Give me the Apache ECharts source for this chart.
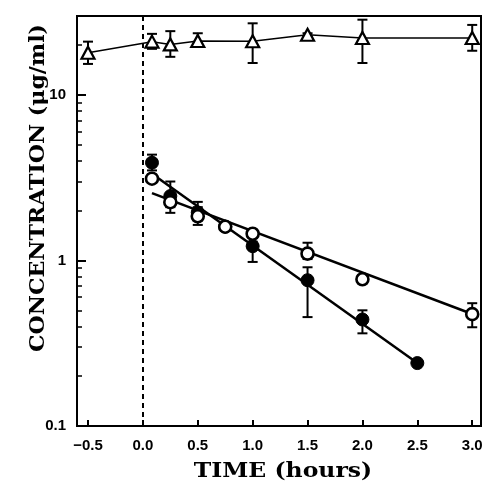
<!DOCTYPE html>
<html><head><meta charset="utf-8">
<script src="https://cdn.jsdelivr.net/npm/echarts@6/dist/echarts.min.js"></script>
<style>html,body{margin:0;padding:0;background:#fff}#c{width:486px;height:488px}</style>
</head><body><div id="c"></div>
<script>
// ---- data ----
const xTickValues = [-0.5, 0, 0.5, 1, 1.5, 2, 2.5, 3];
const yTickValues = [0.1, 1, 10];
const yMinorValues = [0.2,0.3,0.4,0.5,0.6,0.7,0.8,0.9,2,3,4,5,6,7,8,9,20,30];

// triangles (open)
const triX  = [-0.5, 0.083, 0.25, 0.5, 1.0, 1.5, 2.0, 3.0];
const triY  = [18.0, 21.0, 20.2, 21.2, 21.1, 23.1, 22.1, 22.1];
const triLo = [15.4, 19.0, 17.0, 19.5, 15.6, 22.6, 15.6, 18.5];
const triHi = [21.0, 23.4, 24.3, 23.6, 27.1, 23.6, 28.5, 26.5];

// filled circles
const filX  = [0.083, 0.25, 0.5, 0.75, 1.0, 1.5, 2.0, 2.5];
const filY  = [3.9, 2.45, 1.95, 1.6, 1.22, 0.76, 0.44, 0.24];
const filLo = [3.5, 2.1, 1.75, 1.52, 0.98, 0.455, 0.363, 0.24];
const filHi = [4.36, 3.0, 2.26, 1.68, 1.3, 0.91, 0.50, 0.24];

// open circles
const opnX  = [0.083, 0.25, 0.5, 0.75, 1.0, 1.5, 2.0, 3.0];
const opnY  = [3.12, 2.25, 1.85, 1.6, 1.45, 1.1, 0.77, 0.474];
const opnLo = [2.95, 1.94, 1.64, 1.52, 1.38, 1.02, 0.73, 0.395];
const opnHi = [3.3, 2.5, 2.1, 1.68, 1.52, 1.28, 0.81, 0.552];

// fitted lines
const fitFilX = [0.083, 2.5];
const fitFilY = [3.34, 0.24];
const fitOpnX = [0.083, 3.0];
const fitOpnY = [2.55, 0.475];

// ---- build ----
const zip = (a, b) => a.map((v, i) => [v, b[i]]);
const zip3 = (a, b, c) => a.map((v, i) => [v, b[i], c[i]]);
const log10 = Math.log10;

function errRender(capHalf) {
  return function (params, api) {
    const x = api.value(0), lo = api.value(1), hi = api.value(2);
    const pLo = api.coord([x, lo]), pHi = api.coord([x, hi]);
    const style = { stroke: '#000', lineWidth: 2 };
    return { type: 'group', children: [
      { type: 'line', shape: { x1: pLo[0], y1: pLo[1], x2: pHi[0], y2: pHi[1] }, style },
      { type: 'line', shape: { x1: pLo[0] - capHalf, y1: pLo[1], x2: pLo[0] + capHalf, y2: pLo[1] }, style },
      { type: 'line', shape: { x1: pHi[0] - capHalf, y1: pHi[1], x2: pHi[0] + capHalf, y2: pHi[1] }, style }
    ]};
  };
}

const tickFont = { fontFamily: 'Liberation Sans, Arial, sans-serif', fontWeight: 'bold', fontSize: 15, color: '#000' };
const fmtX = v => (v < 0 ? '\u2212' : '') + Math.abs(v).toFixed(1);

const chart = echarts.init(document.getElementById('c'), null, { renderer: 'canvas' });
chart.setOption({
  animation: false,
  backgroundColor: '#fff',
  grid: { left: 77, right: 5, top: 16, bottom: 62, show: true, borderColor: '#000', borderWidth: 2, backgroundColor: 'transparent' },
  xAxis: {
    type: 'value', min: -0.6, max: 3.08,
    axisLine: { show: true, onZero: false, lineStyle: { color: '#000', width: 2 } },
    axisTick: { show: true, inside: true, length: 6, lineStyle: { color: '#000', width: 2 }, customValues: xTickValues },
    axisLabel: { ...tickFont, margin: 12, customValues: xTickValues, formatter: fmtX },
    splitLine: { show: false }
  },
  yAxis: [{
    type: 'log', logBase: 10, min: 0.1, max: 30, interval: 1,
    axisLine: { show: true, onZero: false, lineStyle: { color: '#000', width: 2 } },
    axisTick: { show: true, inside: true, length: 9, lineStyle: { color: '#000', width: 2 } },
    axisLabel: { ...tickFont, margin: 11, showMaxLabel: false,
      formatter: v => (yTickValues.some(t => Math.abs(t - v) < 1e-9) ? String(v) : '') },
    splitLine: { show: false }, minorTick: { show: false }
  }, {
    type: 'value', position: 'left', min: -1, max: log10(30),
    axisLine: { show: false, onZero: false },
    axisTick: { show: true, inside: true, length: 5, lineStyle: { color: '#000', width: 1.5 }, customValues: yMinorValues.map(log10) },
    axisLabel: { show: false },
    splitLine: { show: false }
  }],
  graphic: [
    { type: 'text', x: 283, y: 472, scaleX: 1.12, style: { text: 'TIME (hours)', font: 'bold 21px "DejaVu Serif", serif', fill: '#000', textAlign: 'center', textVerticalAlign: 'middle' } },
    { type: 'text', x: 39, y: 188, rotation: Math.PI / 2, scaleX: 1.05, style: { text: 'CONCENTRATION (\u03bcg/ml)', font: 'bold 21px "DejaVu Serif", serif', fill: '#000', textAlign: 'center', textVerticalAlign: 'middle' } }
  ],
  series: [
    { type: 'line', data: [], markLine: { silent: true, symbol: 'none', label: { show: false },
        lineStyle: { color: '#000', width: 2, type: [5, 4] }, data: [{ xAxis: 0 }] } },
    { type: 'custom', renderItem: errRender(5), data: zip3(triX, triLo, triHi), encode: { x: 0, y: [1, 2] }, z: 3 },
    { type: 'custom', renderItem: errRender(5), data: zip3(filX, filLo, filHi), encode: { x: 0, y: [1, 2] }, z: 3 },
    { type: 'custom', renderItem: errRender(5), data: zip3(opnX, opnLo, opnHi), encode: { x: 0, y: [1, 2] }, z: 3 },
    { type: 'line', data: zip(fitFilX, fitFilY), symbol: 'none', lineStyle: { color: '#000', width: 2.5 }, z: 4 },
    { type: 'line', data: zip(fitOpnX, fitOpnY), symbol: 'none', lineStyle: { color: '#000', width: 2.5 }, z: 4 },
    { type: 'line', data: zip(triX, triY), symbol: 'triangle', symbolSize: [13, 12], showAllSymbol: true,
      lineStyle: { color: '#000', width: 1.5 }, itemStyle: { color: '#fff', borderColor: '#000', borderWidth: 2.2 }, z: 5 },
    { type: 'scatter', data: zip(filX, filY), symbol: 'circle', symbolSize: 13,
      itemStyle: { color: '#000', borderColor: '#000', borderWidth: 1, opacity: 1 }, z: 6 },
    { type: 'scatter', data: zip(opnX, opnY), symbol: 'circle', symbolSize: 12,
      itemStyle: { color: '#fff', borderColor: '#000', borderWidth: 2.6, opacity: 1 }, z: 7 }
  ]
});
</script></body></html>
